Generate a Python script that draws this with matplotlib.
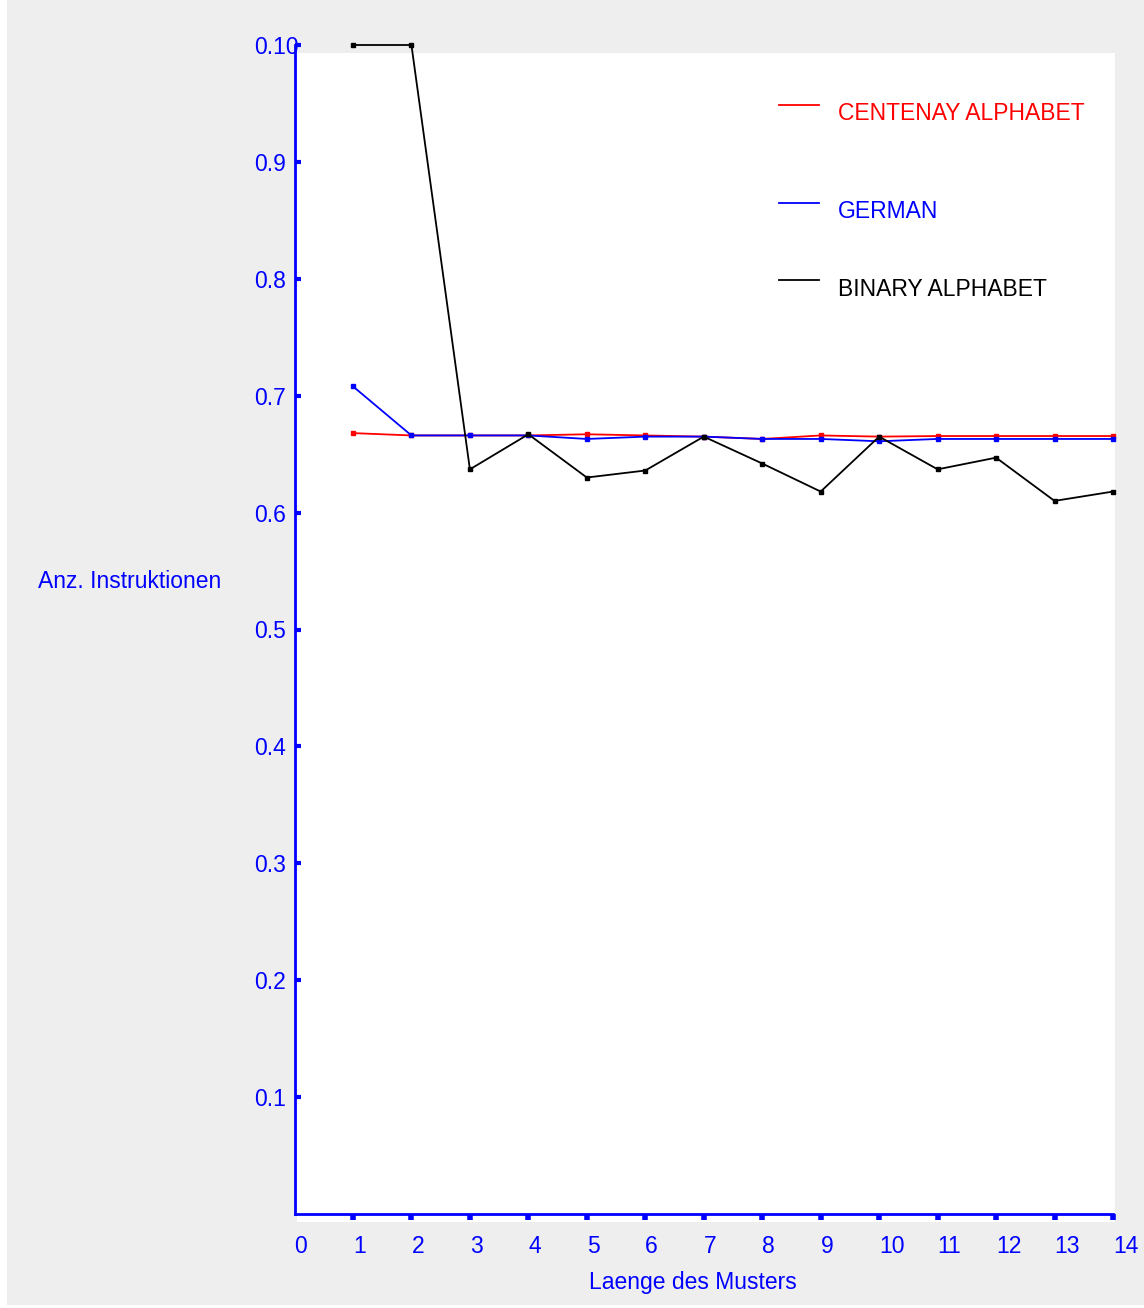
import matplotlib.pyplot as plt
from matplotlib.patches import Rectangle

# pattern length on the x axis
laenge = [1, 2, 3, 4, 5, 6, 7, 8, 9, 10, 11, 12, 13, 14]

# relative instruction counts per alphabet
centenay = [0.668, 0.666, 0.666, 0.666, 0.667, 0.666, 0.665, 0.663, 0.666, 0.665,
            0.6655, 0.6655, 0.6655, 0.6655]
german = [0.708, 0.666, 0.666, 0.666, 0.663, 0.665, 0.665, 0.663, 0.663, 0.661,
          0.663, 0.663, 0.663, 0.663]
binary = [1.0, 1.0, 0.637, 0.667, 0.630, 0.636, 0.665, 0.642, 0.618, 0.665,
          0.637, 0.647, 0.610, 0.618]

series = [('CENTENAY ALPHABET', centenay, '#ff0000'),
          ('GERMAN', german, '#0000ff'),
          ('BINARY ALPHABET', binary, '#000000')]

yticks = [0.1, 0.2, 0.3, 0.4, 0.5, 0.6, 0.7, 0.8, 0.9, 1.0]
ytick_labels = ['0.1', '0.2', '0.3', '0.4', '0.5', '0.6', '0.7', '0.8', '0.9', '0.10']
xticks = list(range(0, 15))

W, H = 1144, 1308
plt.rcParams['font.family'] = ['Liberation Sans', 'DejaVu Sans']
blue = '#0000ff'
gray = '#eeeeee'
fs = 16.5

fig = plt.figure(figsize=(W / 100, H / 100), dpi=100, facecolor='white')
# gray panel with a thin white strip on the left and bottom
fig.patches.append(Rectangle((7 / W, 3 / H), 1 - 7 / W, 1 - 3 / H,
                             transform=fig.transFigure, facecolor=gray,
                             edgecolor='none', zorder=-2))
# white plotting field, slightly offset from the axis lines
fig.patches.append(Rectangle((297 / W, (H - 1222) / H), (1115 - 297) / W, (1222 - 53) / H,
                             transform=fig.transFigure, facecolor='white',
                             edgecolor='none', zorder=-1))

ax = fig.add_axes([294.5 / W, (H - 1214) / H, (1113 - 294.5) / W, (1214 - 45) / H])
ax.set_facecolor('none')
ax.set_xlim(0, 14)
ax.set_ylim(0, 1.0)

for name, vals, col in series:
    ax.plot(laenge, vals, color=col, lw=1.3, marker='s', ms=2.5,
            clip_on=False, zorder=3)

# legend drawn as short line segments with coloured text
for i, (name, vals, col) in enumerate(series):
    y_line = [105, 203, 280][i]
    y_txt = [113, 211, 289][i]
    fig.add_artist(plt.Line2D([779 / W, 819 / W], [1 - y_line / H, 1 - y_line / H],
                              color=col, lw=1.3, transform=fig.transFigure))
    fig.text(838 / W, 1 - y_txt / H, name, color=col, fontsize=fs,
             ha='left', va='center')

for side in ['top', 'right']:
    ax.spines[side].set_visible(False)
for side in ['left', 'bottom']:
    ax.spines[side].set_color(blue)
    ax.spines[side].set_linewidth(2)

ax.set_yticks(yticks)
ax.set_yticklabels(ytick_labels, ha='left')
ax.tick_params(axis='y', direction='in', length=4, width=3, color=blue,
               labelcolor=blue, labelsize=fs, pad=29)
ax.set_xticks(xticks)
ax.set_xticklabels([str(t) for t in xticks], ha='left')
ax.tick_params(axis='x', direction='out', length=4, width=4, color=blue,
               labelcolor=blue, labelsize=fs, pad=11)
for lbl in ax.get_xticklabels():
    lbl.set_x(lbl.get_position()[0])
ax.xaxis.get_major_ticks()[0].tick1line.set_visible(False)

fig.text(693 / W, 1 - 1282 / H, 'Laenge des Musters', color=blue, fontsize=fs,
         ha='center', va='center')
fig.text(38 / W, 1 - 581 / H, 'Anz. Instruktionen', color=blue, fontsize=fs,
         ha='left', va='center')

fig.savefig('out.png', dpi=100, facecolor=fig.get_facecolor())
